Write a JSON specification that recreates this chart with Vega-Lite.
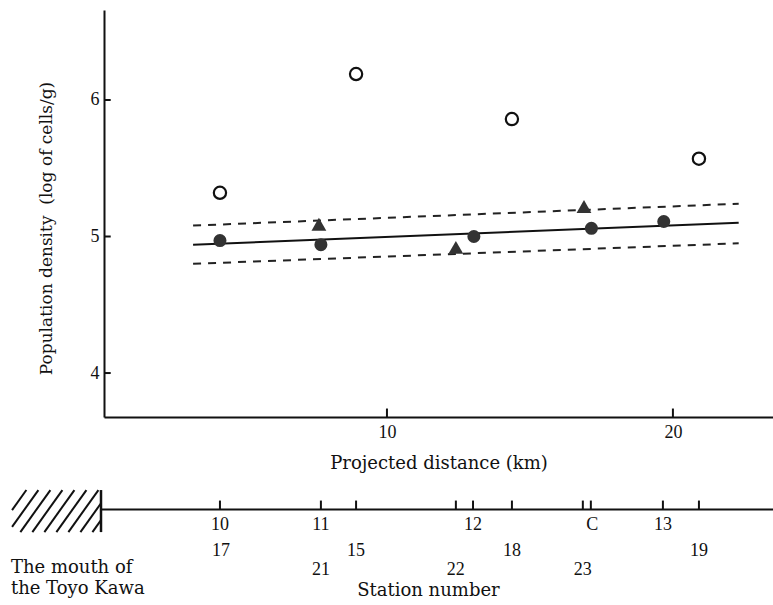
{
  "$schema": "https://vega.github.io/schema/vega-lite/v6.json",
  "width": 669,
  "height": 407,
  "autosize": {"type": "none"},
  "padding": {"left": 104, "top": 10, "right": 0, "bottom": 188},
  "background": "white",
  "config": {
    "view": {"stroke": null},
    "font": "DejaVu Serif",
    "axis": {
      "domainColor": "#111",
      "domainWidth": 2,
      "ticks": false,
      "grid": false,
      "labelFont": "Liberation Serif",
      "labelFontSize": 18,
      "labelColor": "#111",
      "titleFont": "DejaVu Serif",
      "titleFontSize": 18,
      "titleFontWeight": "normal",
      "titleColor": "#111"
    }
  },
  "datasets": {
    "points": [
      {"kind": "filled", "km": 4.16, "logd": 4.97},
      {"kind": "filled", "km": 7.69, "logd": 4.94},
      {"kind": "filled", "km": 13.04, "logd": 5.0},
      {"kind": "filled", "km": 17.15, "logd": 5.06},
      {"kind": "filled", "km": 19.68, "logd": 5.11},
      {"kind": "open", "km": 4.16, "logd": 5.32},
      {"kind": "open", "km": 8.92, "logd": 6.19},
      {"kind": "open", "km": 14.37, "logd": 5.86},
      {"kind": "open", "km": 20.91, "logd": 5.57},
      {"kind": "triangle", "km": 7.62, "logd": 5.09},
      {"kind": "triangle", "km": 12.41, "logd": 4.92},
      {"kind": "triangle", "km": 16.89, "logd": 5.22}
    ],
    "lines": [
      {"band": "fit", "km": 3.22, "logd": 4.94},
      {"band": "fit", "km": 22.3, "logd": 5.1},
      {"band": "upper", "km": 3.22, "logd": 5.08},
      {"band": "upper", "km": 22.3, "logd": 5.24},
      {"band": "lower", "km": 3.22, "logd": 4.8},
      {"band": "lower", "km": 22.3, "logd": 4.95}
    ],
    "yticks": [
      {"km": 0.105, "km2": 0.34, "logd": 4},
      {"km": 0.105, "km2": 0.34, "logd": 5},
      {"km": 0.105, "km2": 0.34, "logd": 6}
    ],
    "xticks": [
      {"km": 10, "logd": 3.678, "logd2": 3.74},
      {"km": 20, "logd": 3.678, "logd2": 3.74}
    ],
    "baseline": [
      {"km": 0, "km2": 23.5, "logd": 3.0}
    ],
    "mouth": [
      {"km": 0, "logd": 2.835, "logd2": 3.143}
    ],
    "ticks": [
      {"km": 4.16}, {"km": 7.69}, {"km": 8.92}, {"km": 12.41}, {"km": 13.01},
      {"km": 14.37}, {"km": 16.85}, {"km": 17.13}, {"km": 19.65}, {"km": 20.91}
    ],
    "hatch": [
      {"km": -3.11, "km2": -2.61, "logd": 2.996, "logd2": 3.143},
      {"km": -3.11, "km2": -2.19, "logd": 2.873, "logd2": 3.143},
      {"km": -2.82, "km2": -1.77, "logd": 2.835, "logd2": 3.143},
      {"km": -2.4, "km2": -1.35, "logd": 2.835, "logd2": 3.143},
      {"km": -1.98, "km2": -0.93, "logd": 2.835, "logd2": 3.143},
      {"km": -1.56, "km2": -0.51, "logd": 2.835, "logd2": 3.143},
      {"km": -1.14, "km2": -0.09, "logd": 2.835, "logd2": 3.143},
      {"km": -0.72, "km2": 0, "logd": 2.835, "logd2": 3.046},
      {"km": -0.3, "km2": 0, "logd": 2.835, "logd2": 2.923}
    ],
    "stations": [
      {"station": "10", "km": 4.16, "level": 2.89},
      {"station": "11", "km": 7.69, "level": 2.89},
      {"station": "12", "km": 13.01, "level": 2.89},
      {"station": "C", "km": 17.18, "level": 2.89},
      {"station": "13", "km": 19.65, "level": 2.89},
      {"station": "17", "km": 4.2, "level": 2.7},
      {"station": "15", "km": 8.92, "level": 2.7},
      {"station": "18", "km": 14.37, "level": 2.7},
      {"station": "19", "km": 20.91, "level": 2.7},
      {"station": "21", "km": 7.69, "level": 2.56},
      {"station": "22", "km": 12.41, "level": 2.56},
      {"station": "23", "km": 16.85, "level": 2.56}
    ],
    "notes": [
      {"text": "Station number", "km": 11.45, "level": 2.405, "anchor": "center"},
      {"text": "The mouth of", "km": -3.15, "level": 2.575, "anchor": "left"},
      {"text": "the Toyo Kawa", "km": -3.15, "level": 2.42, "anchor": "left"}
    ]
  },
  "layer": [
    {
      "data": {"name": "lines"},
      "transform": [{"filter": "datum.band === 'fit'"}],
      "mark": {"type": "line", "color": "#111", "strokeWidth": 2},
      "encoding": {
        "x": {
          "field": "km", "type": "quantitative",
          "scale": {"domain": [0.105, 23.5], "nice": false, "zero": false},
          "axis": {"values": [10, 20], "format": "d", "title": "Projected distance (km)", "labelPadding": 6, "titlePadding": 13}
        },
        "y": {
          "field": "logd", "type": "quantitative",
          "scale": {"domain": [3.678, 6.659], "nice": false, "zero": false},
          "axis": {"values": [4, 5, 6], "format": "d", "title": "Population density\u00a0\u00a0(log of cells/g)", "titleFontSize": 17, "labelPadding": 5, "titlePadding": 35, "titleY": 218}
        }
      }
    },
    {
      "data": {"name": "lines"},
      "transform": [{"filter": "datum.band !== 'fit'"}],
      "mark": {"type": "line", "color": "#222", "strokeWidth": 2, "strokeDash": [8, 7]},
      "encoding": {
        "x": {"field": "km", "type": "quantitative"},
        "y": {"field": "logd", "type": "quantitative"},
        "detail": {"field": "band"}
      }
    },
    {
      "data": {"name": "yticks"},
      "mark": {"type": "rule", "color": "#111", "strokeWidth": 2},
      "encoding": {
        "x": {"field": "km", "type": "quantitative"},
        "x2": {"field": "km2"},
        "y": {"field": "logd", "type": "quantitative"}
      }
    },
    {
      "data": {"name": "xticks"},
      "mark": {"type": "rule", "color": "#111", "strokeWidth": 2},
      "encoding": {
        "x": {"field": "km", "type": "quantitative"},
        "y": {"field": "logd", "type": "quantitative"},
        "y2": {"field": "logd2"}
      }
    },
    {
      "data": {"name": "points"},
      "transform": [{"filter": "datum.kind === 'filled'"}],
      "mark": {"type": "point", "shape": "circle", "filled": true, "color": "#333", "size": 170, "opacity": 1},
      "encoding": {
        "x": {"field": "km", "type": "quantitative"},
        "y": {"field": "logd", "type": "quantitative"}
      }
    },
    {
      "data": {"name": "points"},
      "transform": [{"filter": "datum.kind === 'open'"}],
      "mark": {"type": "point", "shape": "circle", "filled": false, "color": "#111", "strokeWidth": 2.2, "size": 150, "opacity": 1},
      "encoding": {
        "x": {"field": "km", "type": "quantitative"},
        "y": {"field": "logd", "type": "quantitative"}
      }
    },
    {
      "data": {"name": "points"},
      "transform": [{"filter": "datum.kind === 'triangle'"}],
      "mark": {"type": "point", "shape": "triangle-up", "filled": true, "color": "#333", "size": 220, "opacity": 1},
      "encoding": {
        "x": {"field": "km", "type": "quantitative"},
        "y": {"field": "logd", "type": "quantitative"}
      }
    },
    {
      "data": {"name": "baseline"},
      "mark": {"type": "rule", "color": "#111", "strokeWidth": 2},
      "encoding": {
        "x": {"field": "km", "type": "quantitative"},
        "x2": {"field": "km2"},
        "y": {"field": "logd", "type": "quantitative"}
      }
    },
    {
      "data": {"name": "mouth"},
      "mark": {"type": "rule", "color": "#111", "strokeWidth": 2.5},
      "encoding": {
        "x": {"field": "km", "type": "quantitative"},
        "y": {"field": "logd", "type": "quantitative"},
        "y2": {"field": "logd2"}
      }
    },
    {
      "data": {"name": "hatch"},
      "mark": {"type": "rule", "color": "#111", "strokeWidth": 2},
      "encoding": {
        "x": {"field": "km", "type": "quantitative"},
        "x2": {"field": "km2"},
        "y": {"field": "logd", "type": "quantitative"},
        "y2": {"field": "logd2"}
      }
    },
    {
      "data": {"name": "ticks"},
      "mark": {"type": "rule", "color": "#111", "strokeWidth": 2},
      "encoding": {
        "x": {"field": "km", "type": "quantitative"},
        "y": {"datum": 3.0, "type": "quantitative"},
        "y2": {"datum": 3.066}
      }
    },
    {
      "data": {"name": "stations"},
      "mark": {"type": "text", "font": "Liberation Serif", "fontSize": 18, "color": "#111", "align": "center", "baseline": "middle"},
      "encoding": {
        "x": {"field": "km", "type": "quantitative"},
        "y": {"field": "level", "type": "quantitative"},
        "text": {"field": "station"}
      }
    },
    {
      "data": {"name": "notes"},
      "transform": [{"filter": "datum.anchor === 'center'"}],
      "mark": {"type": "text", "font": "DejaVu Serif", "fontSize": 18, "color": "#111", "align": "center", "baseline": "middle"},
      "encoding": {
        "x": {"field": "km", "type": "quantitative"},
        "y": {"field": "level", "type": "quantitative"},
        "text": {"field": "text"}
      }
    },
    {
      "data": {"name": "notes"},
      "transform": [{"filter": "datum.anchor === 'left'"}],
      "mark": {"type": "text", "font": "DejaVu Serif", "fontSize": 18, "color": "#111", "align": "left", "baseline": "middle"},
      "encoding": {
        "x": {"field": "km", "type": "quantitative"},
        "y": {"field": "level", "type": "quantitative"},
        "text": {"field": "text"}
      }
    }
  ]
}
